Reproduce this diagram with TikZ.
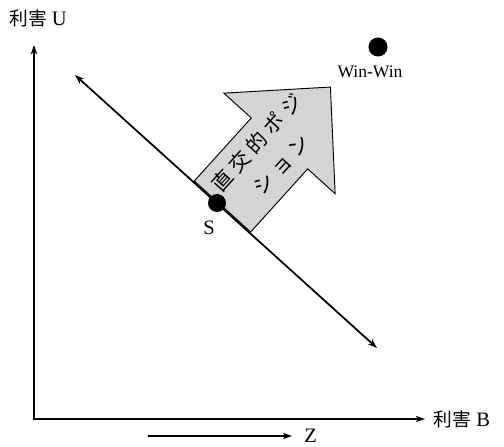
\documentclass[tikz,border=0pt]{standalone}
\usepackage{fontspec}
\setmainfont{Liberation Serif}
\newfontfamily\jpfont{Noto Sans CJK JP}
\newfontfamily\jpwide[LetterSpace=25]{Noto Sans CJK JP}
\usepackage{tikz}
\usetikzlibrary{arrows.meta, positioning}
\definecolor{arrowgray}{RGB}{212, 212, 212}

\begin{document}
\begin{tikzpicture}[x=0.03cm, y=0.03cm, >={Stealth[length=8pt, width=5.5pt]},
    font=\fontsize{17.5}{19}\selectfont]
    \useasboundingbox (0,0) rectangle (504,446);
    % axes
    \coordinate (O) at (34,27);
    \coordinate (Utip) at (34,401);
    \coordinate (Btip) at (425,27);
    \draw[<->, line width=1.8pt] (Utip) -- (O) -- (Btip);
    \node[right=4pt of Btip] (labB) {{\jpfont\fontsize{16}{16}\selectfont 利害} B};
    \node (labU) at (38,428) {{\jpfont\fontsize{16}{16}\selectfont 利害} U};
    % Z direction
    \coordinate (Zs) at (148,10);
    \coordinate (Ze) at (292,10);
    \draw[->, line width=0.9pt] (Zs) -- (Ze);
    \node[right=7pt of Ze] (labZ) {Z};
    % orthogonal arrow
    \begin{scope}[shift={(222.5,239.5)}, rotate=47.9]
        \draw[fill=arrowgray, line width=0.8pt] (0,-38) -- (85,-38) -- (85,-75) -- (161,0)
            -- (85,75) -- (85,38) -- (0,38) -- cycle;
        \node[rotate=47.9, align=center, inner sep=0pt,
            font=\jpwide\fontsize{17.5}{28}\selectfont] (orth) at (70,1)
            {直交的ポジ\\ション};
    \end{scope}
    % line through S
    \coordinate (D1) at (75,371);
    \coordinate (D2) at (377,98);
    \draw[<->, line width=1.5pt] (D1) -- (D2);
    \coordinate (S) at (217,243);
    \fill (S) circle (9);
    \node (labS) at (209,218) {S};
    % win-win point
    \coordinate (W) at (378,399);
    \fill (W) circle (9.5);
    \node[font=\fontsize{15}{17}\selectfont] (labW) at (370,374) {Win-Win};
\end{tikzpicture}
\end{document}
